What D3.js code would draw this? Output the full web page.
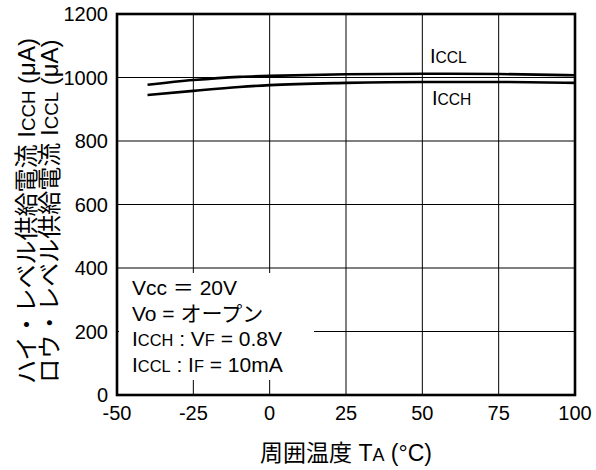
<!DOCTYPE html>
<html>
<head>
<meta charset="utf-8">
<script src="https://cdn.jsdelivr.net/npm/d3@7"></script>
<style>
  body { margin: 0; background: #fff; }
  svg text { font-family: "Liberation Sans", Arial, "Noto Sans CJK JP", sans-serif; fill: #000; }
</style>
</head>
<body>
<svg id="chart" width="596" height="470"></svg>
<script>
// temperatures (°C) and supply currents (µA)
var temps = [-40, -25, -10, 0, 25, 50, 75, 100];
var iccl = [977, 992, 1002, 1005, 1010, 1012, 1011, 1007];
var icch = [945, 958, 970, 976, 983, 986, 986, 983];

var xTicks = [-50, -25, 0, 25, 50, 75, 100];
var yTicks = [0, 200, 400, 600, 800, 1000, 1200];

var svg = d3.select("#chart");
var pL = 117, pR = 575, pT = 14, pB = 395;

var x = d3.scaleLinear().domain([-50, 100]).range([pL, pR]);
var y = d3.scaleLinear().domain([0, 1200]).range([pB, pT]);

// grid
var grid = svg.append("g");
grid.selectAll(".vgrid")
    .data(xTicks)
  .enter().append("line")
    .attr("x1", function(d){ return x(d); })
    .attr("x2", function(d){ return x(d); })
    .attr("y1", pT).attr("y2", pB)
    .attr("stroke", "#000").attr("stroke-width", 1);
grid.selectAll(".hgrid")
    .data(yTicks)
  .enter().append("line")
    .attr("x1", pL).attr("x2", pR)
    .attr("y1", function(d){ return y(d); })
    .attr("y2", function(d){ return y(d); })
    .attr("stroke", "#000").attr("stroke-width", 1);

// white box behind the conditions text
svg.append("rect")
    .attr("x", pL + 2).attr("y", 273)
    .attr("width", 195).attr("height", 107)
    .attr("fill", "#fff");

// curves
var line = d3.line()
    .x(function(d){ return x(d[0]); })
    .y(function(d){ return y(d[1]); })
    .curve(d3.curveMonotoneX);

svg.append("path")
    .datum(d3.zip(temps, iccl))
    .attr("d", line)
    .attr("fill", "none").attr("stroke", "#000").attr("stroke-width", 2.6);
svg.append("path")
    .datum(d3.zip(temps, icch))
    .attr("d", line)
    .attr("fill", "none").attr("stroke", "#000").attr("stroke-width", 2.6);

// frame
svg.append("rect")
    .attr("x", pL).attr("y", pT)
    .attr("width", pR - pL).attr("height", pB - pT)
    .attr("fill", "none").attr("stroke", "#000").attr("stroke-width", 2.6);

// tick labels
svg.selectAll(".xlab")
    .data(xTicks)
  .enter().append("text")
    .attr("x", function(d){ return x(d); })
    .attr("y", 420)
    .attr("text-anchor", "middle")
    .style("font-size", "20px")
    .text(function(d){ return d; });
svg.selectAll(".ylab")
    .data(yTicks)
  .enter().append("text")
    .attr("x", 108)
    .attr("y", function(d){ return y(d) + 7; })
    .attr("text-anchor", "end")
    .style("font-size", "20px")
    .text(function(d){ return d; });

// helper: text with small-cap style suffix parts
function rich(g, parts, size) {
    var t = g.append("text").style("font-size", size + "px");
    parts.forEach(function(p){
        t.append("tspan")
            .style("font-size", (p[1] ? size * 0.78 : size) + "px")
            .text(p[0]);
    });
    return t;
}

// x title
rich(svg, [["周囲温度 T"], ["A", 1], [" (°C)"]], 23)
    .attr("x", (pL + pR) / 2).attr("y", 461)
    .attr("text-anchor", "middle");

// y titles
rich(svg, [["ハイ・レベル供給電流 I"], ["CCH", 1], [" (μA)"]], 24)
    .attr("text-anchor", "middle")
    .attr("transform", "translate(35,211) rotate(-90)");
rich(svg, [["ロウ・レベル供給電流 I"], ["CCL", 1], [" (μA)"]], 24)
    .attr("text-anchor", "middle")
    .attr("transform", "translate(58,211) rotate(-90)");

// curve labels
rich(svg, [["I"], ["CCL", 1]], 20).attr("x", 430).attr("y", 63);
rich(svg, [["I"], ["CCH", 1]], 20).attr("x", 432).attr("y", 105);

// conditions
var cond = [
    [["Vcc ＝ 20V"]],
    [["Vo = オープン"]],
    [["I"], ["CCH", 1], [" : V"], ["F", 1], [" = 0.8V"]],
    [["I"], ["CCL", 1], [" : I"], ["F", 1], [" = 10mA"]]
];
cond.forEach(function(c, i){
    rich(svg, c, 21).attr("x", 132).attr("y", 295 + i * 25.7);
});
</script>
</body>
</html>
